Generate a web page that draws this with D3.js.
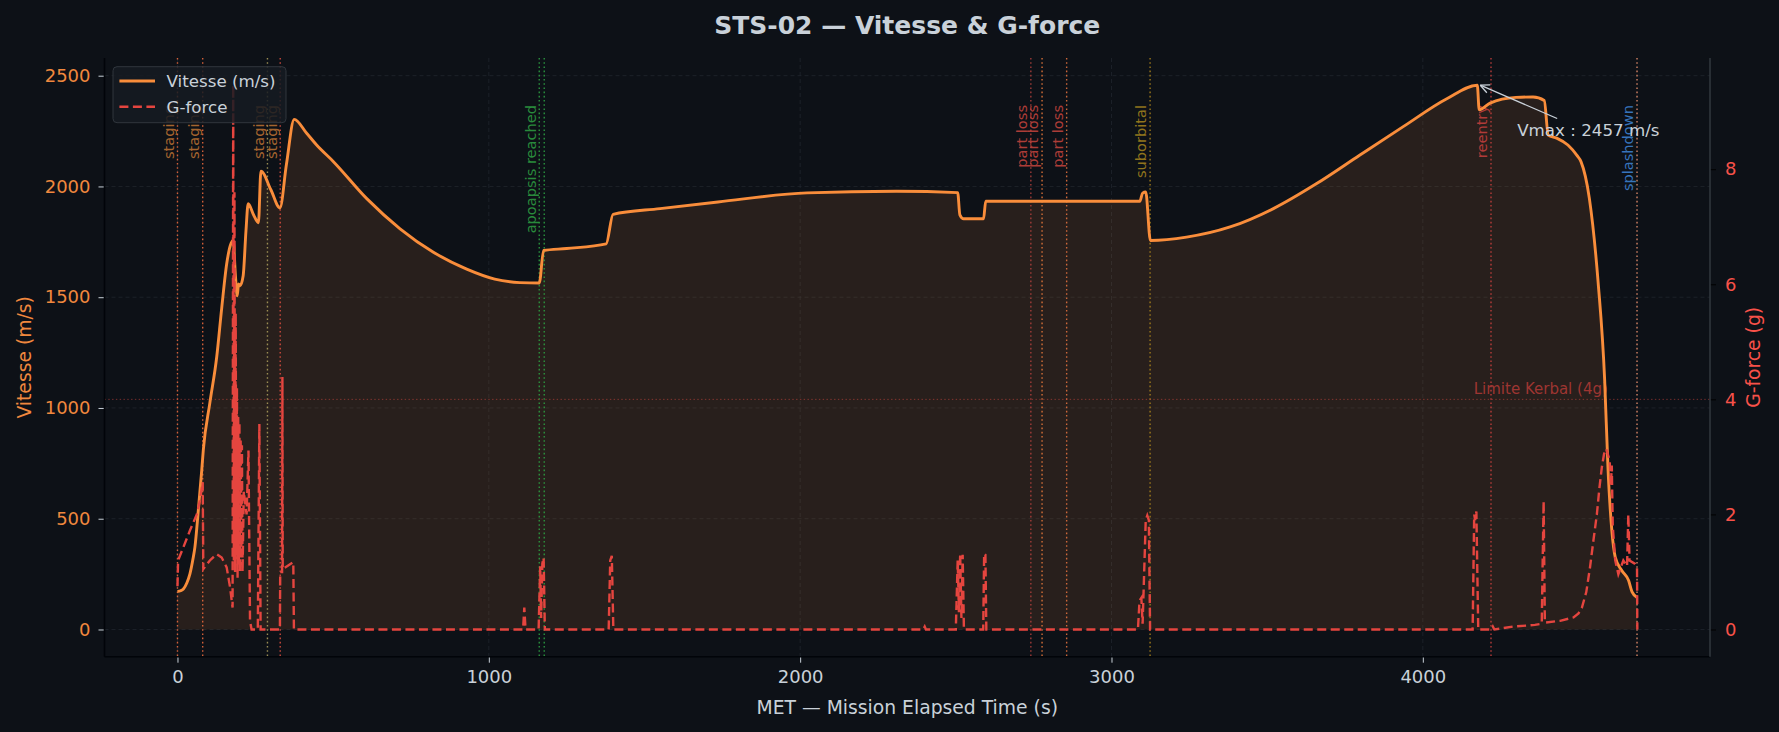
<!DOCTYPE html>
<html>
<head>
<meta charset="utf-8">
<script src="https://cdn.jsdelivr.net/npm/d3@7"></script>
<style>
  body { margin: 0; background: #0d1117; }
  svg { display: block; font-family: "DejaVu Sans", sans-serif; }
</style>
</head>
<body>
<svg width="1779" height="732"></svg>
<script>
// vitesse (m/s) over MET (s)
var velT = [0,10,19,30,40,50,56,67,78,83,104,126,142,158,170,179,186,192,196,201,211,220,227,245,260,268,300,329,350,375,415,447,501,608,715,822,929,1019,1100,1162,1176,1250,1377,1399,1550,1736,2022,2309,2506,2513,2525,2589,2596,3091,3100,3110,3125,3241,3381,3520,3659,3798,3937,4077,4175,4181,4216,4299,4354,4390,4403,4430,4466,4495,4508,4535,4563,4584,4595,4607,4618,4639,4661,4672,4688];
var velV = [172,175,183,210,251,320,372,539,720,811,1023,1230,1450,1650,1735,1756,1600,1506,1560,1552,1597,1800,1922,1870,1836,2069,1985,1903,2100,2303,2240,2187,2112,1945,1809,1703,1627,1582,1566,1564,1711,1720,1741,1874,1900,1930,1971,1978,1972,1872,1854,1854,1933,1933,1970,1975,1756,1771,1817,1900,2013,2142,2270,2396,2457,2346,2376,2402,2404,2388,2232,2218,2187,2140,2112,1945,1568,1128,720,448,327,266,221,170,145];

// g-force over MET (s)
var gT = [0,2,19,40,62,72,81,83,104,126,142,158,169,177,179,181,183,185,187,189,191,193,195,197,199,201,203,205,207,209,213,222,228,233,238,258,263,267,329,330,336,337,338,372,374,1110,1114,1118,1160,1165,1168,1172,1176,1180,1385,1390,1395,1400,2395,2400,2404,2500,2506,2510,2514,2518,2522,2526,2588,2591,2595,2598,3085,3090,3096,3100,3110,3115,3120,3124,4160,4165,4168,4172,4178,4220,4225,4230,4290,4360,4382,4385,4388,4392,4441,4484,4500,4511,4525,4537,4548,4559,4567,4575,4582,4589,4600,4604,4607,4610,4618,4628,4644,4656,4660,4664,4682,4688,4689];
var gV = [0.75,1.2,1.43,1.72,2.0,2.24,2.56,1.05,1.2,1.31,1.25,1.08,0.73,0.38,9.46,1.2,7.6,1.0,5.5,1.3,4.2,0.9,3.7,1.2,3.6,1.0,3.3,1.3,3.2,1.0,2.4,2.0,3.11,0.15,0,0,3.57,0,0,1.0,1.0,4.39,1.05,1.17,0,0,0.38,0,0,1.1,0.2,1.15,1.25,0,0,1.2,1.28,0,0,0.05,0,0,1.2,0.3,1.32,0.2,1.3,0,0,1.32,1.3,0,0,0.5,0.55,0.1,1.9,1.98,1.9,0,0,2.0,1.9,2.05,0,0,0.05,0,0.05,0.08,0.1,1.2,2.23,0.12,0.15,0.21,0.28,0.38,0.65,1.08,1.55,2.0,2.45,2.82,3.05,3.14,2.94,2.5,2.85,1.8,1.2,0.96,1.2,1.1,2.0,1.2,1.14,1.08,0];

// mission events
var evT = [0,81,289,330,1162,1178,2741,2777,2856,3124,4219,4688];
var evLabel = ['staging','staging','staging','staging','apoapsis reached','','part loss','part loss','part loss','suborbital','reentry','splashdown'];
var evLine = ['#e8683c','#e8683c','#a89a5a','#dd4f40','#2ea043','#2ea043','#b0403c','#e8783c','#e0703e','#a8821e','#c8403e','#e8906e'];
var evText = ['#c07434','#c07434','#c07434','#c07434','#2fa043','#2fa043','#c8453e','#c8453e','#c8453e','#a8861e','#c8403e','#3f86d8'];

var xTicks = [0,1000,2000,3000,4000];
var yTicks = [0,500,1000,1500,2000,2500];
var gTicks = [0,2,4,6,8];
var gLimit = 4;

var W = 1779, H = 732;
var L = 104.5, R = 1710, T = 58, B = 656.7;
var orange = '#f0883e', red = '#f85149', txt = '#c9d1d9';

var svg = d3.select('svg');
svg.append('rect').attr('width', W).attr('height', H).attr('fill', '#0d1117');

var x = d3.scaleLinear().domain([-234.4, 4922.4]).range([L, R]);
var y = d3.scaleLinear().domain([-122.85, 2579.85]).range([B, T]);
var yg = d3.scaleLinear().domain([-0.473, 9.933]).range([B, T]);

var vel = velT.map(function(t, i){ return [t, velV[i]]; });
var gf = gT.map(function(t, i){ return [t, gV[i]]; });

// grid
svg.append('g').selectAll('line').data(xTicks).join('line')
  .attr('x1', d => x(d)).attr('x2', d => x(d)).attr('y1', T).attr('y2', B)
  .attr('stroke', '#21262d').attr('stroke-width', 0.8).attr('stroke-dasharray', '4,3');
svg.append('g').selectAll('line').data(yTicks).join('line')
  .attr('x1', L).attr('x2', R).attr('y1', d => y(d)).attr('y2', d => y(d))
  .attr('stroke', '#21262d').attr('stroke-width', 0.8).attr('stroke-dasharray', '4,3');

// fill under velocity
var area = d3.area().curve(d3.curveMonotoneX).x(d => x(d[0])).y0(y(0)).y1(d => y(d[1]));
svg.append('path').datum(vel).attr('d', area).attr('fill', orange).attr('fill-opacity', 0.12);

// event lines + labels
evT.forEach(function(t, i){
  svg.append('line').attr('x1', x(t)).attr('x2', x(t)).attr('y1', T).attr('y2', B)
    .attr('stroke', evLine[i]).attr('stroke-width', 1.4).attr('stroke-dasharray', '1.6,2.6').attr('opacity', 0.9);
  if (evLabel[i]) {
    svg.append('text').attr('transform', 'translate(' + (x(t) - 3.6) + ',105) rotate(-90)')
      .attr('text-anchor', 'end').attr('font-size', 14.6).attr('fill', evText[i]).attr('opacity', 0.85)
      .text(evLabel[i]);
  }
});

// kerbal g limit
svg.append('line').attr('x1', L).attr('x2', R).attr('y1', yg(gLimit)).attr('y2', yg(gLimit))
  .attr('stroke', red).attr('stroke-width', 1).attr('stroke-dasharray', '1.4,2.4').attr('opacity', 0.45);
svg.append('text').attr('x', x(4688 * 0.98)).attr('y', yg(gLimit) - 5)
  .attr('text-anchor', 'end').attr('font-size', 15).attr('fill', '#b23a36').attr('opacity', 0.85)
  .text('Limite Kerbal (4g)');

// velocity line
var line = d3.line().curve(d3.curveMonotoneX).x(d => x(d[0])).y(d => y(d[1]));
svg.append('path').datum(vel).attr('d', line).attr('fill', 'none')
  .attr('stroke', '#f98d3b').attr('stroke-width', 2.9).attr('stroke-linejoin', 'round');

// g-force line
var gline = d3.line().x(d => x(d[0])).y(d => yg(d[1]));
svg.append('path').datum(gf).attr('d', gline).attr('fill', 'none')
  .attr('stroke', '#e5453f').attr('stroke-width', 2.4).attr('stroke-dasharray', '9,4.5');

// axes
var xAxis = svg.append('g').attr('transform', 'translate(0,' + B + ')')
  .call(d3.axisBottom(x).tickValues(xTicks).tickSize(6).tickPadding(8).tickFormat(d3.format('d')));
xAxis.select('.domain').remove();
xAxis.selectAll('line').attr('stroke', txt);
xAxis.selectAll('text').attr('fill', txt).attr('font-size', 18).attr('font-family', 'DejaVu Sans');

var yAxis = svg.append('g').attr('transform', 'translate(' + L + ',0)')
  .call(d3.axisLeft(y).tickValues(yTicks).tickSize(6).tickPadding(8).tickFormat(d3.format('d')));
yAxis.select('.domain').remove();
yAxis.selectAll('line').attr('stroke', txt);
yAxis.selectAll('text').attr('fill', orange).attr('font-size', 18).attr('font-family', 'DejaVu Sans');

var gAxis = svg.append('g').attr('transform', 'translate(' + R + ',0)')
  .call(d3.axisRight(yg).tickValues(gTicks).tickSize(6).tickPadding(9).tickFormat(d3.format('d')));
gAxis.select('.domain').remove();
gAxis.selectAll('line').attr('stroke', '#000');
gAxis.selectAll('text').attr('fill', red).attr('font-size', 18).attr('font-family', 'DejaVu Sans');

// spines
svg.append('line').attr('x1', L).attr('x2', L).attr('y1', T).attr('y2', B).attr('stroke', '#010409').attr('stroke-width', 1.6);
svg.append('line').attr('x1', L).attr('x2', R).attr('y1', B).attr('y2', B).attr('stroke', '#010409').attr('stroke-width', 1.6);
svg.append('line').attr('x1', R).attr('x2', R).attr('y1', T).attr('y2', B).attr('stroke', '#30363d').attr('stroke-width', 1.6);

// labels
svg.append('text').attr('x', (L + R) / 2).attr('y', 34).attr('text-anchor', 'middle')
  .attr('font-size', 25).attr('font-weight', 'bold').attr('fill', txt).text('STS-02 — Vitesse & G-force');
svg.append('text').attr('x', (L + R) / 2).attr('y', 713.5).attr('text-anchor', 'middle')
  .attr('font-size', 18.75).attr('fill', txt).text('MET — Mission Elapsed Time (s)');
svg.append('text').attr('transform', 'translate(30.5,' + ((T + B) / 2) + ') rotate(-90)').attr('text-anchor', 'middle')
  .attr('font-size', 18.75).attr('fill', orange).text('Vitesse (m/s)');
svg.append('text').attr('transform', 'translate(1760.4,' + ((T + B) / 2) + ') rotate(-90)').attr('text-anchor', 'middle')
  .attr('font-size', 18.75).attr('fill', red).text('G-force (g)');

// vmax annotation
var iMax = d3.maxIndex(velV);
var px = x(velT[iMax]), py = y(velV[iMax]);
var tx = x(velT[iMax] + 128), ty = y(velV[iMax] - 200);
svg.append('text').attr('x', tx).attr('y', ty + 6).attr('font-size', 16.7).attr('fill', txt)
  .text('Vmax : ' + velV[iMax] + ' m/s');
var sx = tx + 40, sy = ty - 11;
var ex = px + 3, ey = py;
var ang = Math.atan2(ey - sy, ex - sx);
svg.append('line').attr('x1', sx).attr('y1', sy).attr('x2', ex).attr('y2', ey).attr('stroke', txt).attr('stroke-width', 1.3);
[0.45, -0.45].forEach(function(a){
  svg.append('line').attr('x1', ex).attr('y1', ey)
    .attr('x2', ex - 10 * Math.cos(ang + a)).attr('y2', ey - 10 * Math.sin(ang + a))
    .attr('stroke', txt).attr('stroke-width', 1.3);
});

// legend
var lg = svg.append('g');
lg.append('rect').attr('x', 113).attr('y', 66.7).attr('width', 173).attr('height', 56).attr('rx', 4)
  .attr('fill', '#161b22').attr('fill-opacity', 0.85).attr('stroke', '#30363d').attr('stroke-width', 1);
lg.append('line').attr('x1', 119.4).attr('x2', 155).attr('y1', 81).attr('y2', 81).attr('stroke', '#f98d3b').attr('stroke-width', 2.9);
lg.append('line').attr('x1', 119.4).attr('x2', 155).attr('y1', 106.7).attr('y2', 106.7).attr('stroke', '#e5453f').attr('stroke-width', 2.4).attr('stroke-dasharray', '9,4.5');
lg.append('text').attr('x', 166.5).attr('y', 87).attr('font-size', 16.7).attr('fill', txt).text('Vitesse (m/s)');
lg.append('text').attr('x', 166.5).attr('y', 112.7).attr('font-size', 16.7).attr('fill', txt).text('G-force');
</script>
</body>
</html>
